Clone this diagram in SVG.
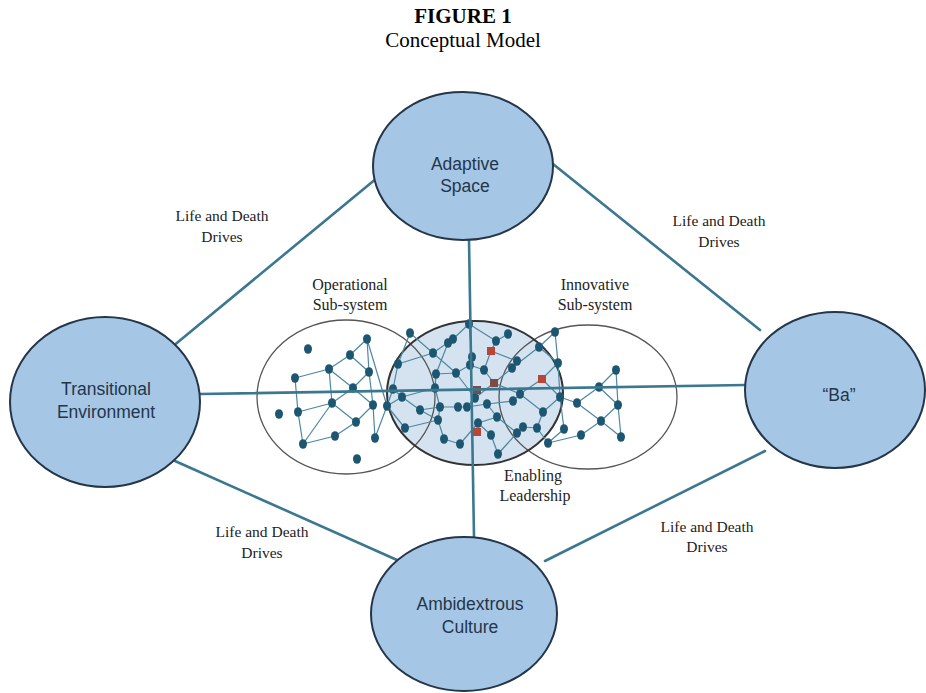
<svg xmlns="http://www.w3.org/2000/svg" width="926" height="693" viewBox="0 0 926 693">
<style>
.bg{fill:#ffffff}
.title{font-family:"Liberation Serif","Times New Roman",serif;font-size:21px;fill:#000;text-anchor:middle}
.lbl{font-family:"Liberation Serif","Times New Roman",serif;font-size:15.5px;fill:#222;text-anchor:middle}
.sub{font-family:"Liberation Serif","Times New Roman",serif;font-size:16px;fill:#222;text-anchor:middle}
.node ellipse{fill:#a6c6e6;stroke:#23364a;stroke-width:2}
.node text{font-family:"Liberation Sans",Arial,sans-serif;font-size:17.5px;fill:#23364a;text-anchor:middle}
.conn{stroke:#3b7890;stroke-width:2.6;fill:none;stroke-linecap:round}
.sys{fill:none;stroke:#555;stroke-width:1.3}
.edge{stroke:#4c88a0;stroke-width:1.2;fill:none}
.dot{fill:#1d5670}
.red{fill:#b8443a}
.brn{fill:#7d4a44}
</style>
<rect class="bg" x="0" y="0" width="926" height="693"/>
<text class="title" x="463" y="23" font-weight="bold">FIGURE 1</text>
<text class="title" x="463" y="47">Conceptual Model</text>

<g id="subsystems">
<ellipse cx="475" cy="393" rx="88" ry="72" fill="#d5e3f1"/>
<ellipse class="sys" cx="346" cy="397" rx="89" ry="77"/>
<ellipse class="sys" cx="588" cy="397" rx="89" ry="72"/>
<ellipse cx="475" cy="393" rx="88" ry="72" fill="none" stroke="#333" stroke-width="2"/>
</g>

<g id="network">
<path class="edge" d="M295,378L329,369M329,369L350,355M350,355L367,339M367,339L369,372M350,355L369,372M329,369L353,388M329,369L332,403M295,378L298,412M298,412L332,403M298,412L303,444M303,444L332,403M303,444L335,436M335,436L356,422M356,422L332,403M356,422L373,405M332,403L353,388M353,388L369,372M353,388L373,405M369,372L373,405M373,405L375,438M375,438L387,406M367,339L387,406M387,406L393,389M393,389L402,397M410,333L398,364M398,364L393,389M402,397L420,410M387,406L405,428
M410,333L433,353M433,353L453,339M453,339L469,324M469,324L472,357M472,357L470,365M433,353L456,373M433,353L398,364M448,343L436,374M436,374L435,388M435,388L402,397M436,374L456,373M456,373L470,365M470,365L484,370M484,370L491,351M491,351L496,341M496,341L508,334M469,324L496,341M484,370L494,383M494,383L475,398M494,383L520,394M494,383L512,368M512,368L517,361M517,361L491,351M512,368L539,347M539,347L555,332M539,347L558,363M558,363L542,379M542,379L520,394M542,379L560,397M520,394L513,401M513,401L487,404M487,404L467,407M467,407L458,407M458,407L440,407M440,407L435,388M440,407L438,420M420,410L438,420M438,420L444,439M444,439L460,444M460,444L478,423M478,423L497,417M497,417L487,404M497,417L517,433M517,433L523,427M523,427L537,428M537,428L543,412M543,412L520,394M543,412L560,397M475,398L467,407M475,398L456,373M478,423L491,435M491,435L498,454M498,454L517,433M405,428L438,420M402,397L387,406M537,428L548,443M548,443L564,429M420,410L440,407
M555,332L558,363M558,363L560,397M560,397L543,412M560,397L564,429M560,397L577,403M616,370L599,387M616,370L618,405M599,387L577,403M599,387L618,405M577,403L601,421M618,405L601,421M601,421L581,435M581,435L548,443M601,421L621,437M621,437L618,405"/>
<g class="dot">
<ellipse cx="308" cy="349" rx="4" ry="4.8"/><ellipse cx="367" cy="339" rx="4" ry="4.8"/><ellipse cx="350" cy="355" rx="4" ry="4.8"/><ellipse cx="329" cy="369" rx="4" ry="4.8"/><ellipse cx="295" cy="378" rx="4" ry="4.8"/><ellipse cx="369" cy="372" rx="4" ry="4.8"/><ellipse cx="353" cy="388" rx="4" ry="4.8"/><ellipse cx="373" cy="405" rx="4" ry="4.8"/><ellipse cx="332" cy="403" rx="4" ry="4.8"/><ellipse cx="298" cy="412" rx="4" ry="4.8"/><ellipse cx="279" cy="414" rx="4" ry="4.8"/><ellipse cx="356" cy="422" rx="4" ry="4.8"/><ellipse cx="335" cy="436" rx="4" ry="4.8"/><ellipse cx="375" cy="438" rx="4" ry="4.8"/><ellipse cx="303" cy="444" rx="4" ry="4.8"/><ellipse cx="357" cy="459" rx="4" ry="4.8"/>
<ellipse cx="410" cy="333" rx="4" ry="4.8"/><ellipse cx="469" cy="324" rx="4" ry="4.8"/><ellipse cx="433" cy="353" rx="4" ry="4.8"/><ellipse cx="448" cy="343" rx="4" ry="4.8"/><ellipse cx="453" cy="339" rx="4" ry="4.8"/><ellipse cx="496" cy="341" rx="4" ry="4.8"/><ellipse cx="508" cy="334" rx="4" ry="4.8"/><ellipse cx="555" cy="332" rx="4" ry="4.8"/><ellipse cx="539" cy="347" rx="4" ry="4.8"/><ellipse cx="472" cy="357" rx="4" ry="4.8"/><ellipse cx="470" cy="365" rx="4" ry="4.8"/><ellipse cx="456" cy="373" rx="4" ry="4.8"/><ellipse cx="484" cy="370" rx="4" ry="4.8"/><ellipse cx="517" cy="361" rx="4" ry="4.8"/><ellipse cx="512" cy="368" rx="4" ry="4.8"/><ellipse cx="558" cy="363" rx="4" ry="4.8"/><ellipse cx="398" cy="364" rx="4" ry="4.8"/><ellipse cx="436" cy="374" rx="4" ry="4.8"/><ellipse cx="393" cy="389" rx="4" ry="4.8"/><ellipse cx="435" cy="388" rx="4" ry="4.8"/><ellipse cx="402" cy="397" rx="4" ry="4.8"/><ellipse cx="475" cy="398" rx="4" ry="4.8"/><ellipse cx="520" cy="394" rx="4" ry="4.8"/><ellipse cx="513" cy="401" rx="4" ry="4.8"/><ellipse cx="560" cy="397" rx="4" ry="4.8"/><ellipse cx="387" cy="406" rx="4" ry="4.8"/><ellipse cx="440" cy="407" rx="4" ry="4.8"/><ellipse cx="458" cy="407" rx="4" ry="4.8"/><ellipse cx="467" cy="407" rx="4" ry="4.8"/><ellipse cx="487" cy="404" rx="4" ry="4.8"/><ellipse cx="420" cy="410" rx="4" ry="4.8"/><ellipse cx="543" cy="412" rx="4" ry="4.8"/><ellipse cx="577" cy="403" rx="4" ry="4.8"/><ellipse cx="497" cy="417" rx="4" ry="4.8"/><ellipse cx="438" cy="420" rx="4" ry="4.8"/><ellipse cx="478" cy="423" rx="4" ry="4.8"/><ellipse cx="523" cy="427" rx="4" ry="4.8"/><ellipse cx="537" cy="428" rx="4" ry="4.8"/><ellipse cx="564" cy="429" rx="4" ry="4.8"/><ellipse cx="405" cy="428" rx="4" ry="4.8"/><ellipse cx="517" cy="433" rx="4" ry="4.8"/><ellipse cx="491" cy="435" rx="4" ry="4.8"/><ellipse cx="444" cy="439" rx="4" ry="4.8"/><ellipse cx="460" cy="444" rx="4" ry="4.8"/><ellipse cx="548" cy="443" rx="4" ry="4.8"/><ellipse cx="498" cy="454" rx="4" ry="4.8"/>
<ellipse cx="616" cy="370" rx="4" ry="4.8"/><ellipse cx="599" cy="387" rx="4" ry="4.8"/><ellipse cx="618" cy="405" rx="4" ry="4.8"/><ellipse cx="601" cy="421" rx="4" ry="4.8"/><ellipse cx="581" cy="435" rx="4" ry="4.8"/><ellipse cx="621" cy="437" rx="4" ry="4.8"/>
</g>
<rect class="red" x="487" y="347" width="8" height="8"/>
<rect class="red" x="538" y="375" width="8" height="8"/>
<rect class="brn" x="490" y="379" width="8" height="8"/>
<rect class="brn" x="473" y="386" width="8" height="8"/>
<rect class="red" x="473" y="428" width="8" height="8"/>
</g>

<g id="sub-labels">
<text class="sub" x="350" y="290">Operational</text>
<text class="sub" x="350" y="310">Sub-system</text>
<text class="sub" x="595" y="290">Innovative</text>
<text class="sub" x="595" y="310">Sub-system</text>
<text class="sub" x="533" y="481">Enabling</text>
<text class="sub" x="535" y="501">Leadership</text>
</g>

<g id="connectors">
<line class="conn" x1="172" y1="347" x2="377" y2="178"/>
<line class="conn" x1="553" y1="164" x2="760" y2="330"/>
<line class="conn" x1="175" y1="461" x2="397" y2="560"/>
<line class="conn" x1="545" y1="561" x2="765" y2="451"/>
<line class="conn" x1="200" y1="394" x2="745" y2="385"/>
<line class="conn" x1="469" y1="240" x2="474" y2="537"/>
</g>

<g id="connector-labels">
<text class="lbl" x="222" y="221">Life and Death</text>
<text class="lbl" x="222" y="242">Drives</text>
<text class="lbl" x="719" y="226">Life and Death</text>
<text class="lbl" x="719" y="247">Drives</text>
<text class="lbl" x="262" y="537">Life and Death</text>
<text class="lbl" x="262" y="558">Drives</text>
<text class="lbl" x="707" y="532">Life and Death</text>
<text class="lbl" x="707" y="552">Drives</text>
</g>

<g id="node-adaptive" class="node">
<ellipse cx="463" cy="166" rx="90" ry="74"/>
<text x="465" y="170">Adaptive</text>
<text x="465" y="192">Space</text>
</g>
<g id="node-transitional" class="node">
<ellipse cx="105" cy="402" rx="95" ry="85"/>
<text x="106" y="395">Transitional</text>
<text x="106" y="418">Environment</text>
</g>
<g id="node-ba" class="node">
<ellipse cx="835" cy="390" rx="90" ry="78"/>
<text x="839" y="401">“Ba”</text>
</g>
<g id="node-ambidextrous" class="node">
<ellipse cx="464" cy="614" rx="93" ry="77"/>
<text x="470" y="610">Ambidextrous</text>
<text x="470" y="633">Culture</text>
</g>
</svg>
